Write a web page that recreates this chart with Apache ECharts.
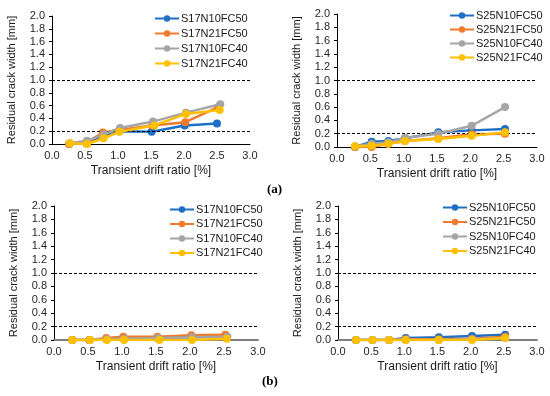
<!DOCTYPE html>
<html><head><meta charset="utf-8">
<script src="https://cdn.jsdelivr.net/npm/echarts@6/dist/echarts.min.js"></script>
<style>html,body{margin:0;padding:0;background:#fff}#c{width:550px;height:396px}</style>
</head><body><div id="c"></div>
<script>
// ---- Data ----
const xTicks = [0.0, 0.5, 1.0, 1.5, 2.0, 2.5, 3.0];
const yTicks = [0.0, 0.2, 0.4, 0.6, 0.8, 1.0, 1.2, 1.4, 1.6, 1.8, 2.0];
const thresholds = [0.2, 1.0];

const namesA1 = ['S17N10FC50', 'S17N21FC50', 'S17N10FC40', 'S17N21FC40'];
const namesA2 = ['S25N10FC50', 'S25N21FC50', 'S25N10FC40', 'S25N21FC40'];

// (a) left: S17
const a1x_N10FC50 = [0.26, 0.52, 0.77, 1.02, 1.51, 2.01, 2.50];
const a1y_N10FC50 = [0.00, 0.01, 0.12, 0.20, 0.19, 0.29, 0.32];
const a1x_N21FC50 = [0.26, 0.52, 0.77, 1.02, 1.52, 2.02, 2.52];
const a1y_N21FC50 = [0.00, 0.02, 0.18, 0.22, 0.29, 0.34, 0.58];
const a1x_N10FC40 = [0.27, 0.53, 0.78, 1.03, 1.53, 2.03, 2.55];
const a1y_N10FC40 = [0.01, 0.05, 0.15, 0.25, 0.35, 0.49, 0.62];
const a1x_N21FC40 = [0.27, 0.53, 0.78, 1.02, 1.55, 2.03, 2.54];
const a1y_N21FC40 = [0.01, 0.00, 0.09, 0.19, 0.29, 0.47, 0.53];

// (a) right: S25
const a2x = [0.27, 0.52, 0.77, 1.02, 1.52, 2.02, 2.52];
const a2y_N10FC50 = [0.00, 0.08, 0.09, 0.13, 0.22, 0.25, 0.27];
const a2y_N21FC50 = [0.00, 0.00, 0.05, 0.09, 0.13, 0.19, 0.20];
const a2y_N10FC40 = [0.01, 0.05, 0.07, 0.14, 0.20, 0.32, 0.60];
const a2y_N21FC40 = [0.01, 0.02, 0.05, 0.09, 0.12, 0.17, 0.22];

// (b) left: S17
const b1x_N10FC50 = [0.27, 0.52, 0.77, 1.02, 1.52, 2.02, 2.52];
const b1y_N10FC50 = [0.00, 0.00, 0.01, 0.03, 0.03, 0.04, 0.05];
const b1x_N21FC50 = [0.27, 0.52, 0.77, 1.02, 1.52, 2.02, 2.52];
const b1y_N21FC50 = [0.00, 0.00, 0.03, 0.05, 0.05, 0.07, 0.08];
const b1x_N10FC40 = [0.27, 0.53, 0.78, 1.03, 1.53, 2.03, 2.55];
const b1y_N10FC40 = [0.00, 0.00, 0.01, 0.02, 0.03, 0.04, 0.05];
const b1x_N21FC40 = [0.27, 0.53, 0.78, 1.03, 1.55, 2.03, 2.54];
const b1y_N21FC40 = [0.00, 0.00, 0.00, 0.00, 0.00, 0.00, 0.02];

// (b) right: S25
const b2x = [0.27, 0.52, 0.77, 1.02, 1.52, 2.02, 2.52];
const b2y_N10FC50 = [0.00, 0.00, 0.00, 0.03, 0.04, 0.06, 0.08];
const b2y_N21FC50 = [0.00, 0.00, 0.00, 0.01, 0.01, 0.02, 0.05];
const b2y_N10FC40 = [0.00, 0.00, 0.00, 0.00, 0.00, 0.01, 0.03];
const b2y_N21FC40 = [0.00, 0.00, 0.00, 0.00, 0.00, 0.00, 0.03];

// ---- Styling / layout ----
const colors = ['#1f6fc5', '#f07a2c', '#a5a5a5', '#ffc000'];
const FONT = 'Liberation Sans, Arial, sans-serif';
const grids = [
  {left: 52, top: 16, width: 198, height: 128},
  {left: 337, top: 14, width: 200, height: 133},
  {left: 54, top: 206, width: 204, height: 134},
  {left: 338, top: 206, width: 199, height: 134}
];
const legendPos = [
  {left: 149, top: 8, gap: 4},
  {left: 444, top: 5, gap: 3},
  {left: 164, top: 199, gap: 3.5},
  {left: 437, top: 197, gap: 3.5}
];
const panels = [
  {names: namesA1, xs: [a1x_N10FC50, a1x_N21FC50, a1x_N10FC40, a1x_N21FC40], ys: [a1y_N10FC50, a1y_N21FC50, a1y_N10FC40, a1y_N21FC40], axisColor: '#000'},
  {names: namesA2, xs: [a2x, a2x, a2x, a2x], ys: [a2y_N10FC50, a2y_N21FC50, a2y_N10FC40, a2y_N21FC40], axisColor: '#000'},
  {names: namesA1, xs: [b1x_N10FC50, b1x_N21FC50, b1x_N10FC40, b1x_N21FC40], ys: [b1y_N10FC50, b1y_N21FC50, b1y_N10FC40, b1y_N21FC40], axisColor: '#7f7f7f'},
  {names: namesA2, xs: [b2x, b2x, b2x, b2x], ys: [b2y_N10FC50, b2y_N21FC50, b2y_N10FC40, b2y_N21FC40], axisColor: '#7f7f7f'}
];

const xAxes = [], yAxes = [], series = [], legends = [];
panels.forEach((p, i) => {
  xAxes.push({
    type: 'value', gridIndex: i, min: xTicks[0], max: xTicks[xTicks.length - 1], interval: 0.5,
    name: 'Transient drift ratio [%]', nameLocation: 'middle', nameGap: 21,
    nameTextStyle: {fontFamily: FONT, fontSize: 12, color: '#1a1a1a'},
    axisLine: {onZero: false, lineStyle: {color: p.axisColor, width: i >= 2 ? 2 : 1}},
    axisTick: {show: false}, splitLine: {show: false},
    axisLabel: {fontFamily: FONT, fontSize: 11, color: '#262626', margin: 6, formatter: v => v.toFixed(1)}
  });
  yAxes.push({
    type: 'value', gridIndex: i, min: yTicks[0], max: yTicks[yTicks.length - 1], interval: 0.2,
    name: 'Residual crack width [mm]', nameLocation: 'middle', nameGap: 35,
    nameTextStyle: {fontFamily: FONT, fontSize: 11, color: '#1a1a1a'},
    axisLine: {show: true, lineStyle: {color: '#000', width: 1}},
    axisTick: {show: true, length: 3, lineStyle: {color: '#000'}}, splitLine: {show: false},
    axisLabel: {fontFamily: FONT, fontSize: 11, color: '#262626', margin: 7, formatter: v => v.toFixed(1)}
  });
  p.names.forEach((n, k) => {
    const s = {
      type: 'line', name: n, xAxisIndex: i, yAxisIndex: i,
      data: p.xs[k].map((x, j) => [x, p.ys[k][j]]),
      symbol: 'circle', symbolSize: 8, z: 3 + k,
      lineStyle: {color: colors[k], width: 2.5},
      itemStyle: {color: colors[k]},
      animation: false
    };
    if (k === 0) {
      s.markLine = {
        silent: true, symbol: 'none', label: {show: false},
        lineStyle: {color: '#000', type: [3, 2], width: 1},
        data: thresholds.map(t => ({yAxis: t}))
      };
    }
    series.push(s);
  });
  const lp = legendPos[i];
  legends.push({
    data: p.names, orient: 'vertical', left: lp.left, top: lp.top,
    itemWidth: 24, itemHeight: 8, itemGap: lp.gap,
    textStyle: {fontFamily: FONT, fontSize: 11, color: '#1a1a1a', padding: [0, 0, 0, -3]}
  });
});

const chart = echarts.init(document.getElementById('c'), null, {renderer: 'canvas'});
chart.setOption({
  backgroundColor: '#fff', animation: false,
  grid: grids, xAxis: xAxes, yAxis: yAxes, series: series, legend: legends,
  graphic: [
    {type: 'text', left: 267, top: 183, style: {text: '(a)', font: 'bold 13px "Liberation Serif", serif', fill: '#000'}},
    {type: 'text', left: 262, top: 375, style: {text: '(b)', font: 'bold 13px "Liberation Serif", serif', fill: '#000'}}
  ]
});
</script></body></html>
